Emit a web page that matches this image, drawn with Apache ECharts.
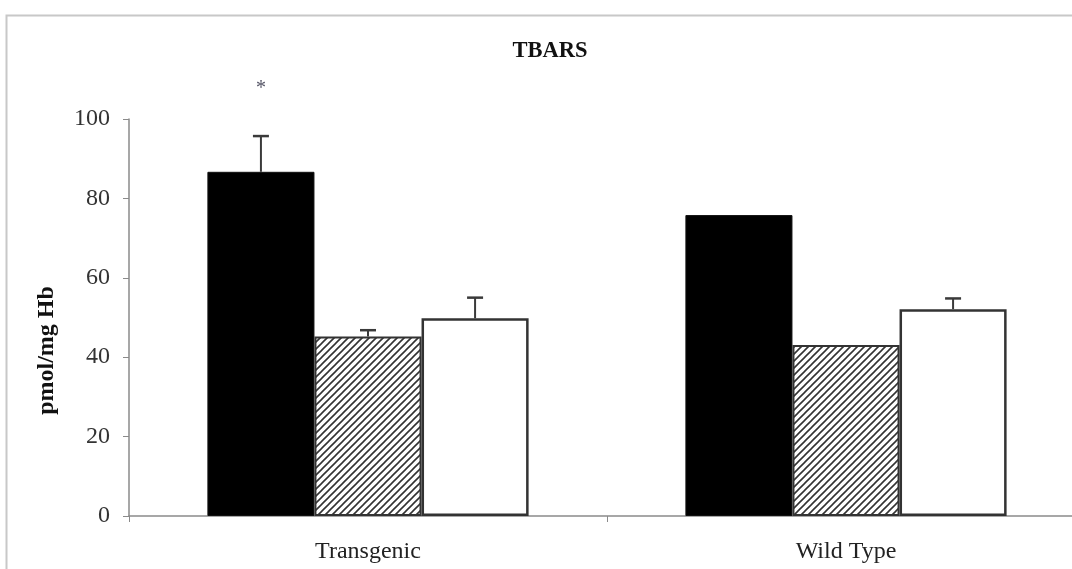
<!DOCTYPE html>
<html>
<head>
<meta charset="utf-8">
<script src="https://cdn.jsdelivr.net/npm/echarts@6/dist/echarts.min.js"></script>
<style>html,body{margin:0;padding:0;background:#fff;overflow:hidden}#c{width:1100px;height:569px}</style>
</head>
<body>
<div id="c"></div>
<script>
const categories = ['Transgenic', 'Wild Type'];
const blackValues = [86.7, 75.8];
const hatchedValues = [45.2, 43.1];
const whiteValues = [49.8, 52.1];
const blackErr = [9.0, 0];
const hatchedErr = [1.6, 0];
const whiteErr = [5.2, 2.7];
const significance = ['*', ''];
const yTicks = { min: 0, max: 100, interval: 20 };
const titleText = 'TBARS';
const yName = 'pmol/mg Hb';

const serif = '"Liberation Serif", "DejaVu Serif", serif';
const BAR_FRAC = 0.224;

function makeHatch() {
  const s = 7;
  const cv = document.createElement('canvas');
  cv.width = s; cv.height = s;
  const g = cv.getContext('2d');
  g.fillStyle = '#fff'; g.fillRect(0, 0, s, s);
  g.strokeStyle = '#333'; g.lineWidth = 1.6;
  g.beginPath();
  g.moveTo(-1, s + 1); g.lineTo(s + 1, -1);
  g.moveTo(-1, 1); g.lineTo(1, -1);
  g.moveTo(s - 1, s + 1); g.lineTo(s + 1, s - 1);
  g.stroke();
  return cv;
}

const errData = [];
[blackErr, hatchedErr, whiteErr].forEach((errs, si) => {
  const vals = [blackValues, hatchedValues, whiteValues][si];
  errs.forEach((e, ci) => {
    errData.push([ci, vals[ci], e, si, si === 0 ? significance[ci] : '']);
  });
});

const chart = echarts.init(document.getElementById('c'), null, { renderer: 'canvas' });
chart.setOption({
  animation: false,
  backgroundColor: '#fff',
  title: {
    text: titleText, left: 'center', top: 35,
    textStyle: { fontFamily: serif, fontWeight: 'bold', fontSize: 22.5, color: '#111' }
  },
  graphic: [{
    type: 'rect', left: 4, top: 13, silent: true,
    shape: { width: 1150, height: 620 },
    style: { fill: 'none', stroke: '#c8c8c8', lineWidth: 2 }
  }],
  grid: { left: 129, top: 119, width: 956, height: 397 },
  xAxis: {
    type: 'category', data: categories,
    axisLine: { lineStyle: { color: '#8a8a8a', width: 1.5 } },
    axisTick: { show: true, length: 6, lineStyle: { color: '#8a8a8a' } },
    axisLabel: { fontFamily: serif, fontSize: 24, color: '#222', margin: 24 }
  },
  yAxis: {
    type: 'value', min: yTicks.min, max: yTicks.max, interval: yTicks.interval,
    name: yName, nameLocation: 'middle', nameGap: 70,
    nameTextStyle: { fontFamily: serif, fontWeight: 'bold', fontSize: 24, color: '#111', padding: [0, 66, 0, 0] },
    splitLine: { show: false },
    axisLine: { show: true, lineStyle: { color: '#8a8a8a', width: 1.5 } },
    axisTick: { show: true, length: 6, lineStyle: { color: '#8a8a8a' } },
    axisLabel: { fontFamily: serif, fontSize: 24, color: '#333', margin: 19 }
  },
  series: [
    { type: 'bar', data: blackValues, barWidth: (BAR_FRAC * 100) + '%', barGap: '0%',
      itemStyle: { color: '#000', borderColor: '#111', borderWidth: 1 } },
    { type: 'bar', data: hatchedValues, barWidth: (BAR_FRAC * 100) + '%', barGap: '0%',
      itemStyle: { color: { image: makeHatch(), repeat: 'repeat' }, borderColor: '#333', borderWidth: 2 } },
    { type: 'bar', data: whiteValues, barWidth: (BAR_FRAC * 100) + '%', barGap: '0%',
      itemStyle: { color: '#fff', borderColor: '#333', borderWidth: 2.5 } },
    {
      type: 'custom', data: errData, z: 10,
      encode: { x: 0, y: 1 },
      renderItem: function (params, api) {
        const ci = api.value(0), v = api.value(1), e = api.value(2), si = api.value(3);
        const sig = errData[params.dataIndex][4];
        const band = api.size([1, 0])[0];
        const bw = band * BAR_FRAC;
        const base = api.coord([ci, v]);
        const cx = base[0] + (si - 1) * bw;
        const top = api.coord([ci, v + e])[1];
        const children = [];
        if (e > 0) {
          children.push({ type: 'line', shape: { x1: cx, y1: base[1], x2: cx, y2: top },
            style: { stroke: '#3a3a3a', lineWidth: 2 } });
          children.push({ type: 'line', shape: { x1: cx - 8, y1: top, x2: cx + 8, y2: top },
            style: { stroke: '#3a3a3a', lineWidth: 2.5 } });
        }
        if (sig) {
          children.push({ type: 'text', x: cx, y: top - 47,
            style: { text: sig, fontFamily: serif, fontSize: 20, fill: '#556', align: 'center', verticalAlign: 'middle' } });
        }
        return { type: 'group', children: children };
      }
    }
  ]
});
</script>
</body>
</html>
